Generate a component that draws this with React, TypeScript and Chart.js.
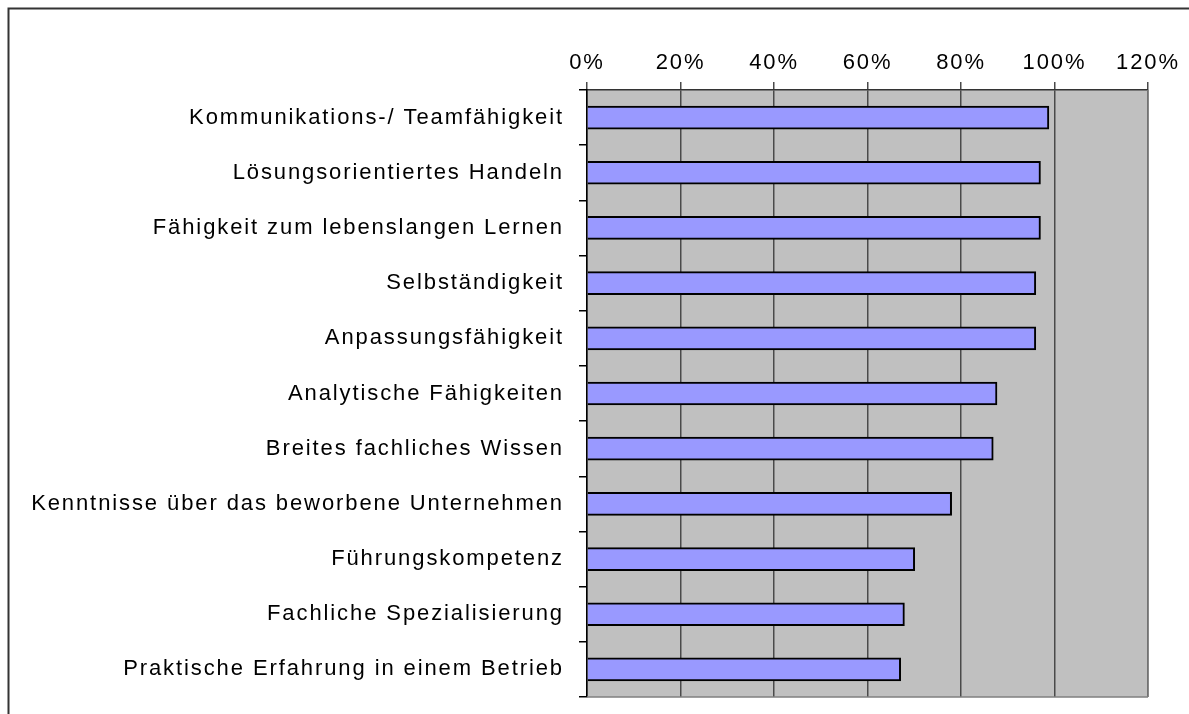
import React, { useEffect, useRef } from "react";
import { Chart, registerables } from "chart.js";

Chart.register(...registerables);

const categories = [
  "Kommunikations-/ Teamfähigkeit",
  "Lösungsorientiertes Handeln",
  "Fähigkeit zum lebenslangen Lernen",
  "Selbständigkeit",
  "Anpassungsfähigkeit",
  "Analytische Fähigkeiten",
  "Breites fachliches Wissen",
  "Kenntnisse über das beworbene Unternehmen",
  "Führungskompetenz",
  "Fachliche Spezialisierung",
  "Praktische Erfahrung in einem Betrieb",
];

const values = [98.8, 97, 97, 96, 96, 87.7, 86.9, 78, 70.1, 67.9, 67.1];

const xTicks = [0, 20, 40, 60, 80, 100, 120];

const FONT = "'Liberation Sans', Arial, sans-serif";
const LETTER_SPACING = "1.9px";

export default function App() {
  const ref = useRef<HTMLCanvasElement | null>(null);

  useEffect(() => {
    if (!ref.current) return;
    const setLS = (chart: any) => {
      try {
        (chart.ctx as any).letterSpacing = LETTER_SPACING;
      } catch (e) {}
    };
    const bgPlugin = {
      id: "bg",
      beforeUpdate(chart: any) {
        setLS(chart);
      },
      beforeLayout(chart: any) {
        setLS(chart);
      },
      beforeDraw(chart: any) {
        setLS(chart);
        const { ctx, chartArea: a } = chart;
        ctx.save();
        ctx.fillStyle = "#C0C0C0";
        ctx.fillRect(a.left, a.top, a.right - a.left, a.bottom - a.top);
        ctx.restore();
      },
      afterDraw(chart: any) {
        const { ctx, chartArea: a } = chart;
        ctx.save();
        ctx.strokeStyle = "#808080";
        ctx.lineWidth = 1.5;
        ctx.beginPath();
        ctx.moveTo(a.left, a.bottom);
        ctx.lineTo(a.right, a.bottom);
        ctx.moveTo(a.right, a.top);
        ctx.lineTo(a.right, a.bottom);
        ctx.stroke();
        ctx.strokeStyle = "#333";
        ctx.lineWidth = 2;
        ctx.beginPath();
        ctx.moveTo(8.5, 714);
        ctx.lineTo(8.5, 8.5);
        ctx.lineTo(1189, 8.5);
        ctx.stroke();
        ctx.restore();
      },
    };

    const chart = new Chart(ref.current, {
      type: "bar",
      data: {
        labels: categories,
        datasets: [
          {
            data: values,
            backgroundColor: "#9999FF",
            borderColor: "#000000",
            borderWidth: 2,
            barThickness: 23,
          },
        ],
      },
      options: {
        indexAxis: "y",
        animation: false,
        responsive: false,
        maintainAspectRatio: false,
        layout: { padding: { left: 0, top: 0, right: 41, bottom: 17 } },
        plugins: {
          legend: { display: false },
          tooltip: { enabled: false },
          title: { display: false },
        },
        scales: {
          x: {
            type: "linear",
            position: "top",
            min: 0,
            max: 120,
            afterBuildTicks(scale: any) {
              scale.ticks = xTicks.map((v) => ({ value: v }));
            },
            afterFit(scale: any) {
              scale.height = 90;
              scale.paddingLeft = 0;
              scale.paddingRight = 0;
            },
            grid: {
              color: "#4a4a4a",
              lineWidth: 1.5,
              tickLength: 8,
              drawOnChartArea: true,
            },
            border: { color: "#333333", width: 1.5 },
            ticks: {
              color: "#000",
              padding: 6,
              font: { family: FONT, size: 22 },
              callback: (v: any) => v + "%",
            },
          },
          y: {
            type: "category",
            position: "left",
            afterFit(scale: any) {
              scale.width = 587;
              scale.paddingTop = 0;
              scale.paddingBottom = 0;
            },
            grid: {
              offset: true,
              drawOnChartArea: false,
              tickLength: 8,
              color: "#000",
              lineWidth: 1.5,
            },
            border: { color: "#000", width: 1.5 },
            ticks: {
              color: "#000",
              padding: 15,
              font: { family: FONT, size: 22 },
            },
          },
        },
      },
      plugins: [bgPlugin],
    } as any);
    return () => chart.destroy();
  }, []);

  return (
    <div style={{ position: "absolute", left: 0, top: 0, width: 1189, height: 714, background: "#fff" }}>
      <canvas ref={ref} width={1189} height={714} style={{ display: "block" }} />
    </div>
  );
}
